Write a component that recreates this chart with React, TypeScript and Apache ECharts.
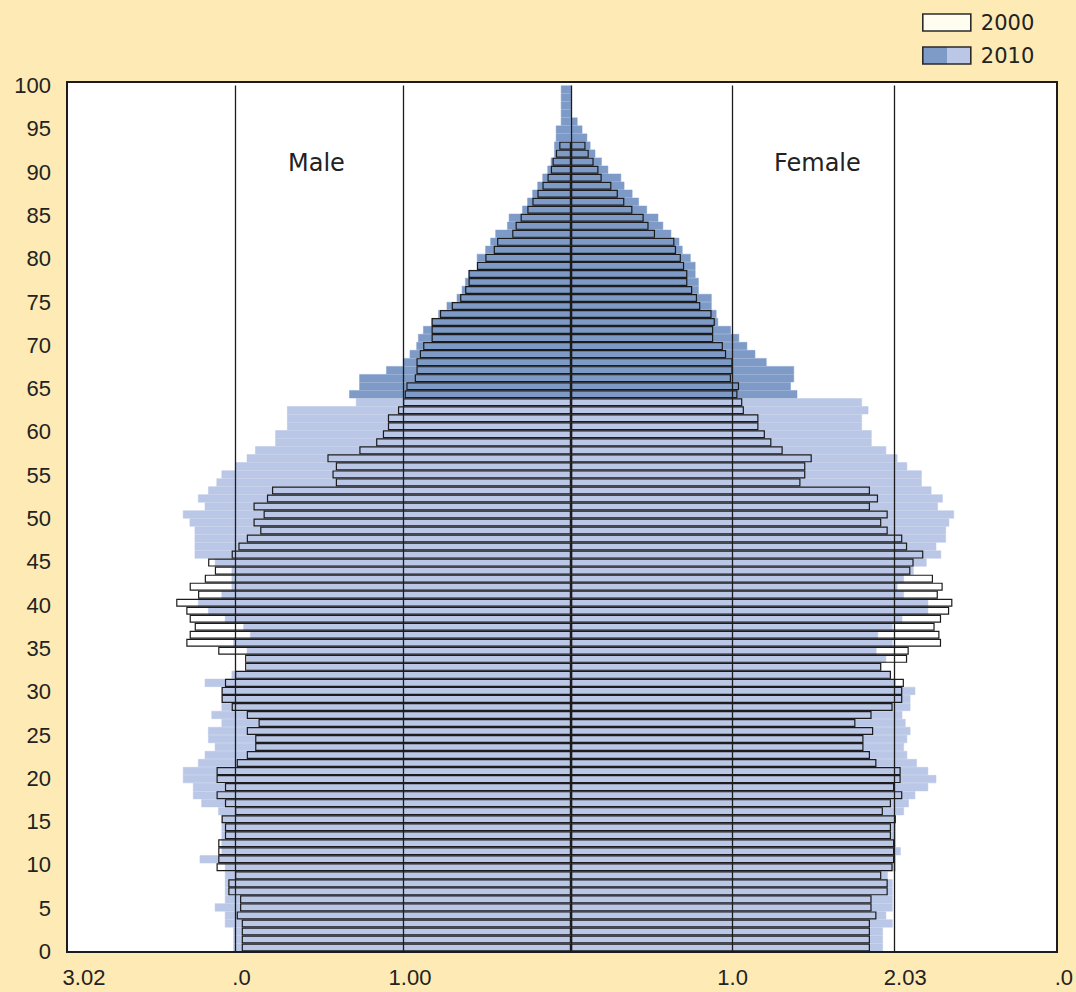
import React, { useEffect, useRef } from 'react';
import * as echarts from 'echarts';

// Shares per single-year band, bottom band first (values in %)
const MALE_2000 = [
  1.96, 1.96, 1.96, 1.96, 1.99, 1.97, 1.97, 2.04, 2.04, 2.0,
  2.11, 2.1, 2.1, 2.1, 2.06, 2.06, 2.08, 2.0, 2.06, 2.11,
  2.06, 2.11, 2.11, 1.99, 1.93, 1.88, 1.88, 1.93, 1.86, 1.93,
  2.02, 2.08, 2.08, 2.06, 2.0, 1.94, 1.94, 2.1, 2.29, 2.27,
  2.24, 2.27, 2.29, 2.35, 2.22, 2.27, 2.18, 2.12, 2.16, 2.02,
  1.98, 1.93, 1.85, 1.89, 1.83, 1.89, 1.81, 1.78, 1.4, 1.42,
  1.4, 1.45, 1.26, 1.16, 1.12, 1.09, 1.09, 1.03, 1.0, 0.99,
  0.98, 0.93, 0.92, 0.92, 0.9, 0.88, 0.83, 0.83, 0.83, 0.78,
  0.71, 0.66, 0.63, 0.61, 0.61, 0.56, 0.51, 0.46, 0.44, 0.35,
  0.33, 0.3, 0.26, 0.23, 0.2, 0.17, 0.14, 0.12, 0.11, 0.09,
  0.07,
];

const MALE_2010 = [
  2.01, 2.01, 2.01, 2.06, 2.06, 2.12, 2.06, 2.06, 2.06, 2.06,
  2.06, 2.21, 2.08, 2.08, 2.08, 2.08, 2.08, 2.1, 2.2, 2.25,
  2.25, 2.31, 2.31, 2.22, 2.18, 2.12, 2.16, 2.16, 2.08, 2.14,
  2.08, 2.08, 2.08, 2.18, 2.02, 1.93, 1.93, 1.93, 2.01, 1.91,
  1.95, 2.06, 2.16, 2.22, 2.08, 2.02, 2.02, 2.02, 2.12, 2.24,
  2.24, 2.24, 2.24, 2.27, 2.31, 2.18, 2.22, 2.16, 2.11, 2.08,
  2.0, 1.93, 1.88, 1.76, 1.76, 1.69, 1.69, 1.69, 1.28, 1.32,
  1.26, 1.26, 1.1, 1.0, 0.96, 0.92, 0.91, 0.88, 0.83, 0.79,
  0.74, 0.68, 0.65, 0.63, 0.61, 0.56, 0.56, 0.51, 0.48, 0.45,
  0.38, 0.37, 0.29, 0.26, 0.23, 0.2, 0.17, 0.14, 0.12, 0.1,
  0.1, 0.09, 0.09, 0.06, 0.06, 0.06, 0.06, 0.06,
];

const FEMALE_2000 = [
  1.85, 1.85, 1.85, 1.85, 1.89, 1.86, 1.86, 1.96, 1.96, 1.92,
  1.99, 2.0, 2.0, 2.0, 1.98, 1.98, 2.01, 1.93, 1.98, 2.05,
  2.0, 2.04, 2.04, 1.89, 1.85, 1.81, 1.81, 1.87, 1.76, 1.86,
  1.99, 2.05, 2.05, 2.06, 1.98, 1.92, 2.08, 2.09, 2.29, 2.28,
  2.25, 2.29, 2.34, 2.36, 2.27, 2.3, 2.24, 2.1, 2.12, 2.18,
  2.08, 2.05, 1.96, 1.92, 1.96, 1.85, 1.9, 1.85, 1.42, 1.45,
  1.45, 1.49, 1.31, 1.24, 1.2, 1.16, 1.16, 1.07, 1.06, 1.03,
  1.04, 0.99, 1.0, 1.0, 0.96, 0.94, 0.88, 0.88, 0.89, 0.87,
  0.8, 0.78, 0.75, 0.72, 0.72, 0.7, 0.68, 0.65, 0.64, 0.52,
  0.48, 0.45, 0.38, 0.33, 0.29, 0.25, 0.19, 0.17, 0.14, 0.11,
  0.09,
];

const FEMALE_2010 = [
  1.93, 1.93, 1.93, 1.99, 1.95, 1.99, 1.99, 1.99, 1.99, 1.96,
  2.01, 2.01, 2.04, 2.01, 2.01, 2.01, 2.01, 2.06, 2.09, 2.13,
  2.21, 2.26, 2.21, 2.14, 2.08, 2.06, 2.08, 2.1, 2.07, 2.05,
  2.1, 2.1, 2.13, 2.01, 1.98, 1.92, 1.95, 1.89, 1.99, 1.9,
  1.99, 2.05, 2.21, 2.21, 2.06, 2.02, 2.06, 2.12, 2.2, 2.29,
  2.26, 2.32, 2.32, 2.34, 2.37, 2.27, 2.3, 2.23, 2.17, 2.17,
  2.08, 2.02, 1.95, 1.86, 1.86, 1.8, 1.8, 1.84, 1.8, 1.4,
  1.36, 1.38, 1.38, 1.21, 1.14, 1.09, 1.04, 0.99, 0.91, 0.9,
  0.87, 0.87, 0.79, 0.79, 0.77, 0.77, 0.74, 0.69, 0.67, 0.62,
  0.57, 0.54, 0.47, 0.42, 0.38, 0.33, 0.31, 0.23, 0.19, 0.15,
  0.12, 0.1, 0.07, 0.04, 0, 0, 0, 0,
];

const BAND_COUNT = 108;
const BANDS = Array.from({ length: BAND_COUNT }, (_, i) => String(i));
const DARK_FROM_BAND = 69;

const AGE_MIN = 0;
const AGE_MAX = 100;
const AGE_STEP = 5;

const LEFT_TICK_LABELS = ['', '1.00', '.0', '3.02'];
const RIGHT_TICK_LABELS = ['', '1.0', '2.03', '.0'];
const SIDE_NAMES = ['Male', 'Female'];
const YEARS = ['2000', '2010'];

const LIGHT = '#BAC7E6';
const DARK = '#7E9BC8';
const BG = '#FDEAB4';
const INK = '#1c1c1c';

export default function App() {
  const ref = useRef<HTMLDivElement>(null);

  useEffect(() => {
    document.body.style.margin = '0';
    const chart = echarts.init(ref.current as HTMLDivElement, null, { renderer: 'svg' });

    const legendGradient = new echarts.graphic.LinearGradient(0, 0, 1, 0, [
      { offset: 0, color: DARK },
      { offset: 0.5, color: DARK },
      { offset: 0.5, color: LIGHT },
      { offset: 1, color: LIGHT },
    ]);

    const paint = (arr: number[]) =>
      arr.map((v, i) => {
        const c = i >= DARK_FROM_BAND ? DARK : LIGHT;
        return { value: v, itemStyle: { color: c, borderColor: c, borderWidth: 0.5 } };
      });

    const labelFont = { fontSize: 22, fontFamily: 'Liberation Sans, Arial, sans-serif', color: '#222' };

    const richFor = (pads: number[]) => {
      const r: Record<string, any> = {};
      pads.forEach((p, i) => {
        r['t' + i] = { ...labelFont, padding: [0, 0, 0, p] };
      });
      return r;
    };

    const gridLine = {
      silent: true,
      symbol: ['none', 'none'],
      label: { show: false },
      lineStyle: { color: INK, width: 1.3, type: 'solid' },
    };

    const barCommon = {
      type: 'bar',
      barGap: '-100%',
      barCategoryGap: '0%',
      silent: true,
    };

    const option: any = {
      animation: false,
      backgroundColor: BG,
      grid: [
        { left: 67, top: 85.5, width: 504, height: 866 },
        { left: 571, top: 85.5, width: 486, height: 866 },
      ],
      xAxis: [
        {
          gridIndex: 0,
          type: 'value',
          min: 0,
          max: 3,
          interval: 1,
          inverse: true,
          axisLine: { show: false },
          axisTick: { show: false },
          splitLine: { show: false },
          axisLabel: {
            margin: 15,
            ...labelFont,
            formatter: (v: number) => (LEFT_TICK_LABELS[v] ? `{t${v}|${LEFT_TICK_LABELS[v]}}` : ''),
            rich: richFor([0, 14, 13, 34]),
          },
        },
        {
          gridIndex: 1,
          type: 'value',
          min: 0,
          max: 3,
          interval: 1,
          axisLine: { show: false },
          axisTick: { show: false },
          splitLine: { show: false },
          axisLabel: {
            margin: 15,
            ...labelFont,
            formatter: (v: number) => (RIGHT_TICK_LABELS[v] ? `{t${v}|${RIGHT_TICK_LABELS[v]}}` : ''),
            rich: richFor([0, 0, 22, 16]),
          },
        },
      ],
      yAxis: [
        { gridIndex: 0, type: 'category', data: BANDS, show: false, position: 'right' },
        {
          gridIndex: 0,
          type: 'value',
          min: AGE_MIN,
          max: AGE_MAX,
          interval: AGE_STEP,
          position: 'left',
          axisLine: { show: false },
          axisTick: { show: false },
          splitLine: { show: false },
          axisLabel: { margin: 16, ...labelFont },
        },
        { gridIndex: 1, type: 'category', data: BANDS, show: false },
      ],
      legend: {
        orient: 'vertical',
        left: 922,
        top: 12,
        padding: 0,
        itemWidth: 48,
        itemHeight: 17,
        itemGap: 12,
        icon: 'rect',
        selectedMode: false,
        textStyle: {
          fontSize: 21,
          fontFamily: 'DejaVu Sans, sans-serif',
          color: '#222',
          lineHeight: 17,
          padding: [0, 0, 0, 5],
        },
        data: [
          { name: YEARS[0], itemStyle: { color: '#FFFCF0', borderColor: '#2a2a2a', borderWidth: 1.6 } },
          { name: YEARS[1], itemStyle: { color: legendGradient, borderColor: '#2a2a2a', borderWidth: 1.6 } },
        ],
      },
      series: [
        {
          ...barCommon,
          name: YEARS[1],
          xAxisIndex: 0,
          yAxisIndex: 0,
          z: 2,
          itemStyle: { color: legendGradient },
          data: paint(MALE_2010),
        },
        {
          ...barCommon,
          name: YEARS[0],
          xAxisIndex: 0,
          yAxisIndex: 0,
          z: 3,
          itemStyle: { color: 'rgba(255,255,255,0)', borderColor: INK, borderWidth: 1.2 },
          data: MALE_2000,
          markLine: { ...gridLine, data: [{ xAxis: 0 }, { xAxis: 1 }, { xAxis: 2 }] },
        },
        {
          ...barCommon,
          name: YEARS[1],
          xAxisIndex: 1,
          yAxisIndex: 2,
          z: 2,
          itemStyle: { color: legendGradient },
          data: paint(FEMALE_2010),
        },
        {
          ...barCommon,
          name: YEARS[0],
          xAxisIndex: 1,
          yAxisIndex: 2,
          z: 3,
          itemStyle: { color: 'rgba(255,255,255,0)', borderColor: INK, borderWidth: 1.2 },
          data: FEMALE_2000,
          markLine: { ...gridLine, data: [{ xAxis: 1 }, { xAxis: 2 }] },
        },
      ],
      graphic: [
        {
          type: 'rect',
          z: -10,
          silent: true,
          shape: { x: 67, y: 82, width: 990, height: 870 },
          style: { fill: '#ffffff' },
        },
        {
          type: 'rect',
          z: 100,
          silent: true,
          shape: { x: 67, y: 82, width: 990, height: 870 },
          style: { fill: 'none', stroke: INK, lineWidth: 2 },
        },
        {
          type: 'text',
          z: 100,
          style: {
            text: SIDE_NAMES[0],
            x: 288,
            y: 163,
            fontSize: 24,
            fontFamily: 'DejaVu Sans, sans-serif',
            fill: '#222',
            verticalAlign: 'middle',
          },
        },
        {
          type: 'text',
          z: 100,
          style: {
            text: SIDE_NAMES[1],
            x: 774,
            y: 163,
            fontSize: 24,
            fontFamily: 'DejaVu Sans, sans-serif',
            fill: '#222',
            verticalAlign: 'middle',
          },
        },
      ],
    };

    chart.setOption(option);
    return () => chart.dispose();
  }, []);

  return <div ref={ref} style={{ width: 1076, height: 992 }} />;
}
